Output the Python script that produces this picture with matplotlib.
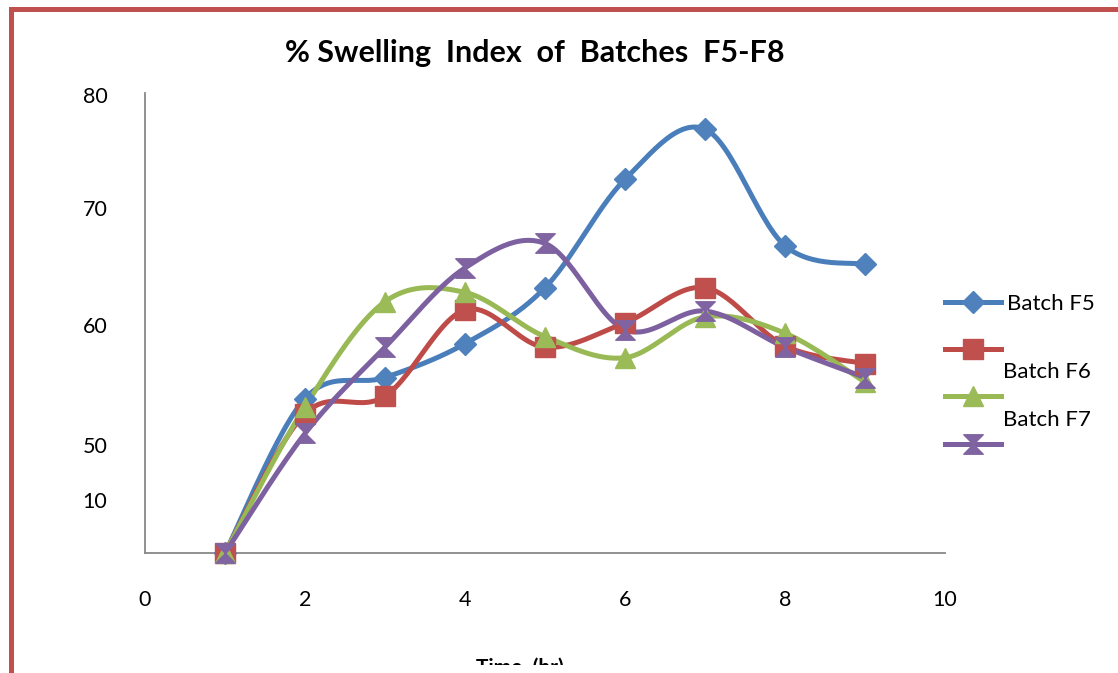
import numpy as np
import matplotlib
matplotlib.use("Agg")
import matplotlib.pyplot as plt
from matplotlib.lines import Line2D
from matplotlib.path import Path
from matplotlib.patches import Rectangle

# data
time_hr = [1, 2, 3, 4, 5, 6, 7, 8, 9]
batch_f5 = [40.75, 54.0, 55.8, 58.7, 63.5, 72.8, 77.1, 67.1, 65.5]
batch_f6 = [40.75, 52.7, 54.2, 61.6, 58.4, 60.5, 63.5, 58.5, 57.0]
batch_f7 = [40.75, 53.3, 62.3, 63.1, 59.3, 57.5, 61.0, 59.6, 55.4]
batch_f8 = [40.75, 51.0, 58.4, 65.2, 67.3, 59.9, 61.5, 58.4, 55.8]
series_names = ["Batch F5", "Batch F6", "Batch F7", "Batch F8"]

y_ticks = [80, 70.3, 60.3, 50, 45.3]
y_tick_labels = ["80", "70", "60", "50", "10"]
x_ticks = [0, 2, 4, 6, 8, 10]

plt.rcParams['font.family'] = ['Lato', 'DejaVu Sans']


def smooth(x, y, n=30):
    # excel-like smoothed line (catmull-rom bezier)
    x = np.asarray(x, float)
    y = np.asarray(y, float)
    pts = np.column_stack([x, y])
    out = [pts[0]]
    for i in range(len(pts) - 1):
        p0 = pts[i - 1] if i > 0 else pts[i]
        p1 = pts[i]
        p2 = pts[i + 1]
        p3 = pts[i + 2] if i + 2 < len(pts) else pts[i + 1]
        c1 = p1 + (p2 - p0) / 6.0
        c2 = p2 - (p3 - p1) / 6.0
        t = np.linspace(0, 1, n)[1:, None]
        seg = ((1 - t) ** 3) * p1 + 3 * ((1 - t) ** 2) * t * c1 + 3 * (1 - t) * t ** 2 * c2 + t ** 3 * p2
        out.extend(seg)
    out = np.array(out)
    return out[:, 0], out[:, 1]


hourglass = Path([(-1, 1), (1, 1), (-1, -1), (1, -1), (-1, 1)],
                 [Path.MOVETO, Path.LINETO, Path.LINETO, Path.LINETO, Path.CLOSEPOLY])

styles = [
    ("#4A7EBB", "#4F81BD", "D", 11),
    ("#BE4B48", "#C0504D", "s", 14),
    ("#98B954", "#9BBB59", "^", 15),
    ("#7D60A0", "#8064A2", hourglass, 14),
]

fig = plt.figure(figsize=(11.18, 6.73), dpi=100)
ax = fig.add_axes([145 / 1118, 1 - 553 / 673, 800 / 1118, 460 / 673])

all_series = [batch_f5, batch_f6, batch_f7, batch_f8]
handles = []
for vals, (lc, mc, mk, ms) in zip(all_series, styles):
    sx, sy = smooth(time_hr, vals)
    ax.plot(sx, sy, color=lc, lw=3.6, solid_capstyle='round', clip_on=False)
    ax.plot(time_hr, vals, ls='none', marker=mk, ms=ms, color=mc, mec=mc, clip_on=False, zorder=3)
    handles.append(Line2D([], [], color=lc, lw=3.6, marker=mk, ms=ms, mfc=mc, mec=mc))

ax.set_xlim(0, 10)
ax.set_ylim(40.75, 80.2)
ax.set_xticks(x_ticks)
ax.set_yticks(y_ticks)
ax.set_yticklabels(y_tick_labels)
ax.tick_params(length=0, labelsize=15.5)
ax.tick_params(axis='x', pad=27)
ax.tick_params(axis='y', pad=27)
for s in ['top', 'right']:
    ax.spines[s].set_visible(False)
for s in ['left', 'bottom']:
    ax.spines[s].set_color('#888888')
    ax.spines[s].set_linewidth(1.3)

fig.text(535 / 1118, 1 - 53 / 673, "% Swelling  Index  of  Batches  F5-F8",
         ha='center', va='center', fontsize=22, fontweight='bold')

# axis title, cut off at the bottom of the page
fig.text(520 / 1118, 1 - 668 / 673, "Time  (hr)", ha='center', va='center', fontsize=15,
         fontweight='bold')

# broken legend: only the first label lines up with its key
leg = ax.legend(handles, ["Batch F5", " ", " ", " "], loc='upper left',
                bbox_to_anchor=(945 / 1118, 1 - 294 / 673), bbox_transform=fig.transFigure,
                frameon=False, borderpad=0, borderaxespad=0, handlelength=2.5,
                handletextpad=0.3, labelspacing=1.22, fontsize=16)
fig.text(1003 / 1118, 1 - 372 / 673, "Batch F6", ha='left', va='center', fontsize=16)
fig.text(1003 / 1118, 1 - 420 / 673, "Batch F7", ha='left', va='center', fontsize=16)

# page border
fig.add_artist(Rectangle((9 / 1118, 0), 5 / 1118, 1 - 7 / 673, transform=fig.transFigure,
                         color='#C0504D', lw=0))
fig.add_artist(Rectangle((9 / 1118, 1 - 12 / 673), 1, 5 / 673, transform=fig.transFigure,
                         color='#C0504D', lw=0))
# white band hides the bottom of the axis title
fig.add_artist(Rectangle((14 / 1118, 0), 1, 8 / 673, transform=fig.transFigure,
                         color='white', lw=0, zorder=5))

fig.savefig("out.png", dpi=100)
